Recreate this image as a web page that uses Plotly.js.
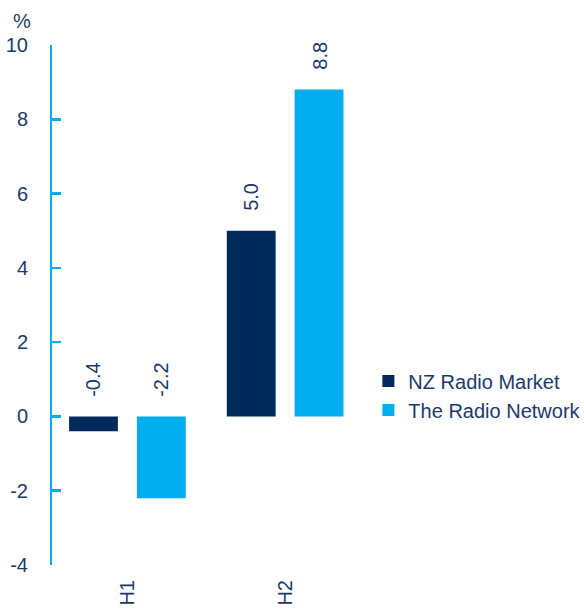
<!DOCTYPE html>
<html>
<head>
<meta charset="utf-8">
<script src="https://cdn.plot.ly/plotly-3.0.1.min.js"></script>
<style>html,body{margin:0;padding:0;background:#fff;}#chart{width:584px;height:612px;}</style>
</head>
<body>
<div id="chart"></div>
<script>
var categories = ["H1", "H2"];
var nzRadioMarket = [-0.4, 5.0];
var theRadioNetwork = [-2.2, 8.8];
var seriesNames = ["NZ Radio Market", "The Radio Network"];
var yTicks = [-4, -2, 0, 2, 4, 6, 8, 10];

var DARK = "#002A5C";
var LIGHT = "#00AEEF";
var TEXT = "#1B3A6B";
var FONT = "Liberation Sans, Arial, Helvetica, sans-serif";
var FS = 20;

var traces = [
  {type: "bar", name: seriesNames[0], x: categories, y: nzRadioMarket, marker: {color: DARK}, hoverinfo: "none"},
  {type: "bar", name: seriesNames[1], x: categories, y: theRadioNetwork, marker: {color: LIGHT}, hoverinfo: "none"}
];

var annotations = [];
[nzRadioMarket, theRadioNetwork].forEach(function (vals, si) {
  vals.forEach(function (v, ci) {
    annotations.push({
      x: ci, xref: "x", y: Math.max(v, 0), yref: "y",
      xshift: si === 0 ? -34 : 34,
      text: v.toFixed(1), showarrow: false, textangle: -90,
      yanchor: "bottom", xanchor: "center", yshift: 18,
      font: {family: FONT, size: FS, color: TEXT}
    });
  });
});
annotations.push({
  x: -0.0976, xref: "paper", y: 1.046, yref: "paper", text: "%", showarrow: false,
  xanchor: "center", yanchor: "middle",
  font: {family: FONT, size: FS, color: TEXT}
});

var layout = {
  width: 584, height: 612,
  margin: {l: 52, r: 219.5, t: 45, b: 47, autoexpand: false},
  paper_bgcolor: "#fff", plot_bgcolor: "#fff",
  font: {family: FONT, size: FS, color: TEXT},
  barmode: "group", bargap: 0.14, bargroupgap: 0.28,
  showlegend: true,
  legend: {x: 1.014, xanchor: "left", y: 0.326, yanchor: "middle", font: {family: FONT, size: FS, color: TEXT}, bgcolor: "rgba(0,0,0,0)", tracegroupgap: 0},
  xaxis: {
    type: "category", range: [-0.478, 1.5], showgrid: false, zeroline: false, showline: false,
    ticks: "", tickangle: -90, ticklabelstandoff: 10, tickfont: {family: FONT, size: FS, color: TEXT},
    fixedrange: true, automargin: false
  },
  yaxis: {
    range: [-4, 10], tickmode: "array", tickvals: yTicks, ticktext: yTicks.map(String), showgrid: false, zeroline: false,
    showline: true, linecolor: LIGHT, linewidth: 2, mirror: false,
    ticks: "inside", ticklen: 9, tickwidth: 2.5, tickcolor: LIGHT,
    ticklabelstandoff: 18, tickfont: {family: FONT, size: FS, color: TEXT},
    fixedrange: true, automargin: false
  },
  annotations: annotations
};

Plotly.newPlot("chart", traces, layout, {staticPlot: true, displayModeBar: false});
</script>
</body>
</html>
